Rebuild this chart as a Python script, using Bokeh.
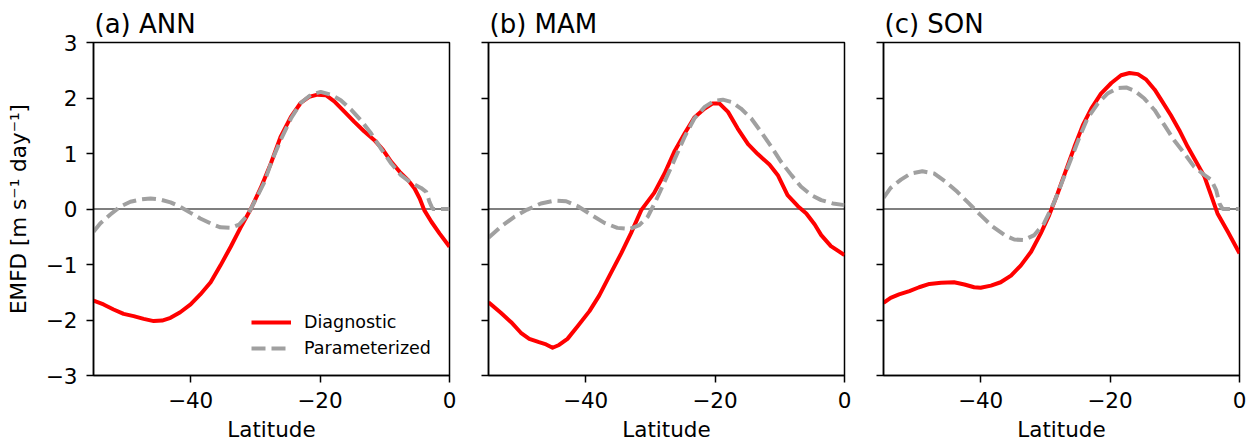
from bokeh.plotting import figure
from bokeh.layouts import row
from bokeh.models import Span, Legend, LegendItem, FixedTicker, Range1d
from bokeh.embed import file_html
from bokeh.resources import INLINE

# ---------------- data ----------------
panel_titles = ["(a) ANN", "(b) MAM", "(c) SON"]
series_names = ["Diagnostic", "Parameterized"]
y_ticks = [-3, -2, -1, 0, 1, 2, 3]
x_ticks = [-40, -20, 0]

ann_diag_lat = [-55.0, -53.45, -51.9, -50.35, -48.8, -47.25, -45.7, -44.4, -43.1, -41.6, -40.0, -38.5,
                -36.9, -35.4, -33.8, -32.3, -30.7, -29.2, -27.6, -26.1, -24.5, -23.0, -21.7, -20.4,
                -19.1, -17.8, -16.2, -14.7, -13.2, -11.6, -10.3, -9.0, -7.7, -6.4, -5.4, -4.6,
                -3.9, -2.8, -1.55, 0.0]
ann_diag_val = [-1.65, -1.72, -1.81, -1.89, -1.93, -1.98, -2.02, -2.01, -1.96, -1.86, -1.72, -1.54,
                -1.32, -1.02, -0.68, -0.34, 0.0, 0.37, 0.82, 1.30, 1.66, 1.91, 2.02, 2.06,
                2.05, 1.94, 1.75, 1.57, 1.40, 1.24, 1.07, 0.85, 0.67, 0.52, 0.37, 0.19,
                -0.02, -0.23, -0.44, -0.68]
ann_par_lat = [-55.0, -53.97, -52.4, -50.9, -49.3, -47.8, -46.2, -44.7, -43.1, -41.6, -40.0, -38.5,
               -36.9, -35.4, -33.8, -32.5, -31.2, -30.0, -28.7, -27.4, -26.1, -24.5, -23.0, -21.4,
               -19.9, -18.3, -16.8, -15.2, -13.7, -12.1, -10.6, -9.0, -7.5, -5.9, -4.4, -3.6,
               -3.1, -2.6, 0.0]
ann_par_val = [-0.41, -0.26, -0.10, 0.04, 0.13, 0.17, 0.19, 0.17, 0.12, 0.04, -0.07, -0.17,
               -0.26, -0.33, -0.34, -0.28, -0.11, 0.16, 0.46, 0.88, 1.24, 1.63, 1.91, 2.06,
               2.11, 2.06, 1.96, 1.79, 1.60, 1.36, 1.09, 0.82, 0.61, 0.47, 0.38, 0.31,
               0.13, 0.0, 0.0]

mam_diag_lat = [-55.0, -53.1, -51.5, -50.0, -48.7, -47.2, -46.1, -45.1, -44.1, -42.8, -41.2, -39.4,
                -37.9, -36.3, -34.5, -33.0, -31.4, -29.4, -27.8, -26.3, -24.7, -23.2, -21.6, -20.4,
                -19.3, -18.0, -16.5, -14.9, -13.4, -11.6, -10.3, -8.8, -7.2, -5.9, -4.6, -3.6,
                -2.1, 0.0]
mam_diag_val = [-1.68, -1.87, -2.04, -2.23, -2.34, -2.40, -2.44, -2.50, -2.45, -2.34, -2.11, -1.84,
                -1.56, -1.20, -0.80, -0.44, -0.02, 0.29, 0.64, 1.03, 1.36, 1.65, 1.81, 1.90,
                1.90, 1.75, 1.45, 1.17, 0.99, 0.80, 0.61, 0.25, 0.05, -0.08, -0.28, -0.47,
                -0.67, -0.83]
mam_par_lat = [-55.0, -53.1, -51.0, -49.0, -46.9, -44.8, -43.0, -41.2, -39.2, -37.1, -35.1, -33.2,
               -31.7, -30.4, -29.1, -27.8, -26.3, -24.7, -23.2, -21.6, -20.1, -18.8, -17.5, -16.0,
               -14.4, -12.9, -11.3, -9.8, -8.2, -6.7, -5.1, -3.6, -1.8, 0.0]
mam_par_val = [-0.52, -0.32, -0.14, -0.01, 0.10, 0.15, 0.14, 0.05, -0.10, -0.25, -0.34, -0.36,
               -0.29, -0.14, 0.16, 0.49, 0.88, 1.30, 1.63, 1.84, 1.95, 1.97, 1.93, 1.81,
               1.63, 1.39, 1.12, 0.85, 0.61, 0.40, 0.25, 0.16, 0.10, 0.07]

son_diag_lat = [-55.0, -53.9, -52.6, -51.0, -49.5, -47.9, -46.1, -44.1, -42.5, -41.0, -40.0, -38.4,
                -36.9, -35.3, -33.8, -32.2, -30.7, -29.4, -28.1, -26.8, -25.5, -24.2, -22.9, -21.4,
                -19.8, -18.3, -17.0, -15.7, -14.4, -13.1, -11.9, -10.6, -9.3, -8.0, -6.7, -5.4,
                -4.4, -3.4, -1.8, 0.0]
son_diag_val = [-1.69, -1.60, -1.54, -1.48, -1.41, -1.35, -1.33, -1.32, -1.36, -1.41, -1.42, -1.38,
                -1.32, -1.20, -1.02, -0.77, -0.44, -0.11, 0.28, 0.70, 1.12, 1.51, 1.81, 2.08,
                2.27, 2.41, 2.45, 2.43, 2.33, 2.15, 1.93, 1.69, 1.42, 1.12, 0.85, 0.58,
                0.25, -0.08, -0.41, -0.80]
son_par_lat = [-55.0, -53.9, -52.3, -50.8, -49.0, -47.2, -45.4, -43.6, -41.8, -40.0, -38.2, -36.3,
               -34.8, -33.3, -31.7, -30.2, -28.6, -27.3, -26.0, -24.7, -23.5, -21.9, -20.4, -18.8,
               -17.5, -16.2, -14.7, -13.1, -11.6, -10.1, -8.5, -7.0, -5.4, -4.4, -3.6, -3.1,
               -2.6, 0.0]
son_par_val = [0.20, 0.38, 0.53, 0.64, 0.68, 0.64, 0.49, 0.31, 0.10, -0.11, -0.31, -0.47,
               -0.55, -0.56, -0.47, -0.26, 0.13, 0.52, 0.91, 1.30, 1.63, 1.90, 2.08, 2.18,
               2.19, 2.13, 1.99, 1.78, 1.51, 1.24, 1.00, 0.76, 0.61, 0.53, 0.34, 0.10,
               0.0, 0.0]

panels = [
    (ann_diag_lat, ann_diag_val, ann_par_lat, ann_par_val),
    (mam_diag_lat, mam_diag_val, mam_par_lat, mam_par_val),
    (son_diag_lat, son_diag_val, son_par_lat, son_par_val),
]

# ---------------- styling ----------------
FONT = "DejaVu Sans"
RED = "#ff0000"
GRAY = "#a0a0a0"
MINUS = "\u2212"


def fmt(v):
    return (MINUS + str(abs(v))) if v < 0 else str(v)


borders = [(93, 9), (30, 8), (31, 8)]

figs = []
for i, (dl, dv, pl, pv) in enumerate(panels):
    left, right = borders[i]
    p = figure(frame_width=356, frame_height=333,
               x_range=Range1d(-55, 0), y_range=Range1d(-3, 3),
               output_backend="svg", toolbar_location=None,
               min_border_left=left, min_border_right=right,
               min_border_top=42, min_border_bottom=64)
    p.background_fill_color = "white"
    p.border_fill_color = "white"
    p.outline_line_color = "black"
    p.outline_line_width = 1.5
    p.outline_line_alpha = 1.0
    p.xgrid.visible = False
    p.ygrid.visible = False

    p.title.text = panel_titles[i]
    p.title.align = "left"
    p.title.text_font = FONT
    p.title.text_font_size = "26px"
    p.title.text_font_style = "normal"
    p.title.text_color = "black"
    p.title.standoff = 7
    p.title.offset = 1

    for ax in (p.xaxis[0], p.yaxis[0]):
        ax.axis_line_width = 1.5
        ax.axis_line_color = "black"
        ax.major_tick_line_width = 1.5
        ax.major_tick_line_color = "black"
        ax.major_tick_out = 7
        ax.major_tick_in = 0
        ax.minor_tick_line_color = None
        ax.major_label_text_font = FONT
        ax.major_label_text_font_size = "21.5px"
        ax.major_label_text_color = "black"
        ax.axis_label_text_font = FONT
        ax.axis_label_text_font_size = "21.5px"
        ax.axis_label_text_font_style = "normal"
        ax.axis_label_text_color = "black"

    p.xaxis.major_label_standoff = 9
    p.yaxis.major_label_standoff = 9
    p.xaxis.ticker = FixedTicker(ticks=x_ticks)
    p.yaxis.ticker = FixedTicker(ticks=y_ticks)
    p.xaxis.major_label_overrides = {t: fmt(t) for t in x_ticks}
    p.xaxis.axis_label = "Latitude"
    p.xaxis.axis_label_standoff = 6
    if i == 0:
        p.yaxis.major_label_overrides = {t: fmt(t) for t in y_ticks}
        p.yaxis.axis_label = "EMFD [m s\u207b\u00b9 day\u207b\u00b9]"
        p.yaxis.axis_label_standoff = 12
    else:
        p.yaxis.major_label_overrides = {t: "" for t in y_ticks}

    zero = Span(location=0, dimension="width", line_color="black", line_width=1.2, level="underlay")
    p.add_layout(zero)

    r_diag = p.line(dl, dv, line_color=RED, line_width=4, line_join="round")
    r_par = p.line(pl, pv, line_color=GRAY, line_width=4, line_dash="14 6")

    if i == 0:
        legend = Legend(items=[LegendItem(label=series_names[0], renderers=[r_diag]),
                               LegendItem(label=series_names[1], renderers=[r_par])],
                        location=(158, 17), orientation="vertical")
        legend.border_line_color = None
        legend.background_fill_alpha = 0
        legend.padding = 0
        legend.margin = 0
        legend.spacing = 6
        legend.glyph_width = 40
        legend.glyph_height = 20
        legend.label_height = 20
        legend.label_standoff = 13
        legend.label_text_font = FONT
        legend.label_text_font_size = "17.5px"
        legend.label_text_color = "black"
        p.add_layout(legend)

    figs.append(p)

layout = row(*figs)
open("out.html", "w").write(file_html(layout, INLINE))
